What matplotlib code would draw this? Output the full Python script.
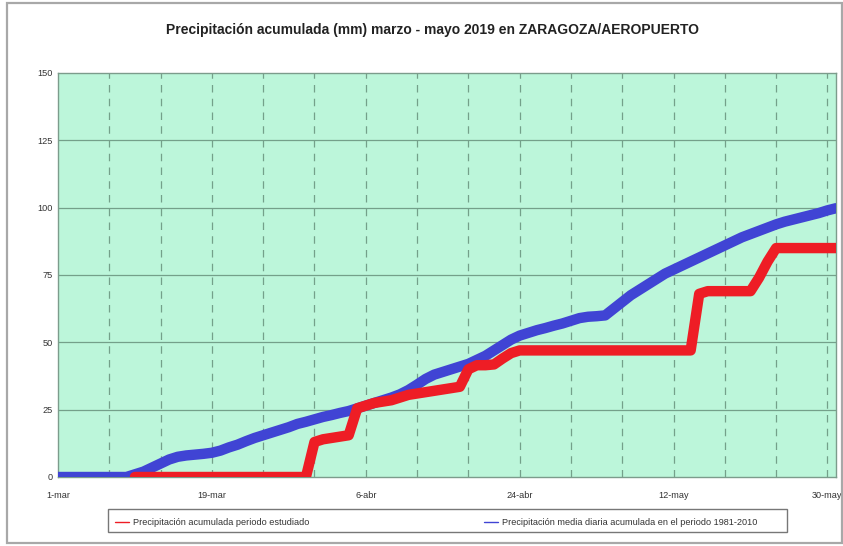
import numpy as np
import matplotlib
matplotlib.use("Agg")
import matplotlib.pyplot as plt
from matplotlib.patches import Rectangle

plt.rcParams['font.family'] = ['Liberation Sans', 'DejaVu Sans']

# Days since 1-mar (0..91 -> 1-mar .. 31-may)
days = list(range(92))

# Accumulated mean daily precipitation 1981-2010 (mm)
mean_acum = [0, 0, 0, 0, 0, 0, 0, 0, 0, 1.0,
             2.0, 3.5, 5.0, 6.5, 7.5, 8.0, 8.3, 8.6, 9.0, 9.8,
             11.0, 12.0, 13.3, 14.5, 15.5, 16.5, 17.5, 18.5, 19.7, 20.5,
             21.4, 22.3, 23.0, 23.8, 24.5, 25.5, 26.5, 27.5, 28.5, 29.5,
             30.7, 32.3, 34.3, 36.4, 38.0, 39.0, 40.0, 41.0, 42.0, 43.5,
             45.0, 47.0, 49.0, 51.0, 52.5, 53.5, 54.5, 55.3, 56.2, 57.0,
             58.0, 59.0, 59.5, 59.7, 60.0, 62.5, 65.0, 67.5, 69.5, 71.5,
             73.5, 75.5, 77.0, 78.5, 80.0, 81.5, 83.0, 84.5, 86.0, 87.5,
             89.0, 90.2, 91.4, 92.6, 93.8, 94.8, 95.6, 96.4, 97.2, 98.0,
             99.0, 99.8]

# Accumulated precipitation in the studied period (mm); drawn from 10-mar
obs_acum = ([None] * 9 + [0] * 21
            + [13.0, 14.0, 14.5, 15.0, 15.5]
            + [25.5, 26.5, 27.5, 28.0, 28.5, 29.5, 30.5, 31.0, 31.5, 32.0, 32.5, 33.0, 33.5]
            + [40.0, 41.5, 41.5, 41.8, 44.0, 46.0, 47.0]
            + [47.0] * 20
            + [68.0, 69.0, 69.0, 69.0, 69.0, 69.0]
            + [69.0, 74.0, 80.0, 85.0]
            + [85.0] * 7)

xtick_pos = [0, 18, 36, 54, 72, 90]
xtick_labels = ['1-mar', '19-mar', '6-abr', '24-abr', '12-may', '30-may']
ytick_pos = [0, 25, 50, 75, 100, 125, 150]

title = 'Precipitación acumulada (mm) marzo - mayo 2019 en ZARAGOZA/AEROPUERTO'
label_obs = 'Precipitación acumulada periodo estudiado'
label_mean = 'Precipitación media diaria acumulada en el periodo 1981-2010'

W, H = 843, 546
fig = plt.figure(figsize=(W / 100, H / 100), dpi=100)
fig.patch.set_facecolor('white')

# outer frame
fig.add_artist(Rectangle((7 / W, 3 / H), (W - 8) / W, (H - 6) / H,
                         transform=fig.transFigure, fill=False,
                         edgecolor='#a8a8a8', linewidth=1.6))

x0, x1, ytop, ybot = 58, 836, 73, 477
ax = fig.add_axes([x0 / W, (H - ybot) / H, (x1 - x0) / W, (ybot - ytop) / H])
ax.set_facecolor('#bcf6da')

obs = np.array([np.nan if v is None else v for v in obs_acum], dtype=float)

ax.plot(days, mean_acum, color='#4044d4', linewidth=7.5,
        solid_capstyle='round', solid_joinstyle='round', label=label_mean, zorder=3)
ax.plot(days, obs, color='#ee1d25', linewidth=7.5,
        solid_capstyle='round', solid_joinstyle='round', label=label_obs, zorder=4)

ax.set_xlim(0, 91)
ax.set_ylim(0, 150)
ax.set_xticks(xtick_pos)
ax.set_xticklabels(xtick_labels)
ax.set_xticks(list(range(6, 91, 6)), minor=True)
ax.set_yticks(ytick_pos)
ax.set_yticklabels([str(v) for v in ytick_pos])

ax.tick_params(axis='both', which='both', length=0, labelsize=6.6, labelcolor='#333333')
ax.tick_params(axis='x', pad=10)
ax.tick_params(axis='y', pad=4)

for v in range(6, 91, 6):
    ax.axvline(v, color='#74a08a', linewidth=0.9, linestyle=(0, (6, 5)), zorder=1)
for v in [25, 50, 75, 100, 125]:
    ax.axhline(v, color='#74a08a', linewidth=0.9, zorder=1)

for s in ax.spines.values():
    s.set_color('#7c9c8c')
    s.set_linewidth(1.0)

fig.text(433 / W, 1 - 30 / H, title, ha='center', va='center',
         fontsize=10, fontweight='bold', color='#222222')

# legend frame
fig.add_artist(Rectangle((108 / W, (H - 532) / H), (787 - 108) / W, 23 / H,
                         transform=fig.transFigure, fill=False,
                         edgecolor='#777777', linewidth=1.0))

handles, labels = ax.get_legend_handles_labels()
leg = fig.legend([handles[1], handles[0]], [labels[1], labels[0]],
                 loc='lower left',
                 bbox_to_anchor=(110 / W, (H - 532) / H, (762 - 110) / W, 23 / H),
                 mode='expand', ncol=2, fontsize=6.6, frameon=False,
                 handlelength=1.6, handletextpad=0.4, borderpad=0.5,
                 borderaxespad=0)
for lh in leg.get_lines():
    lh.set_linewidth(1.0)
for t in leg.get_texts():
    t.set_color('#333333')

fig.savefig('out.png', dpi=100, facecolor='white')
